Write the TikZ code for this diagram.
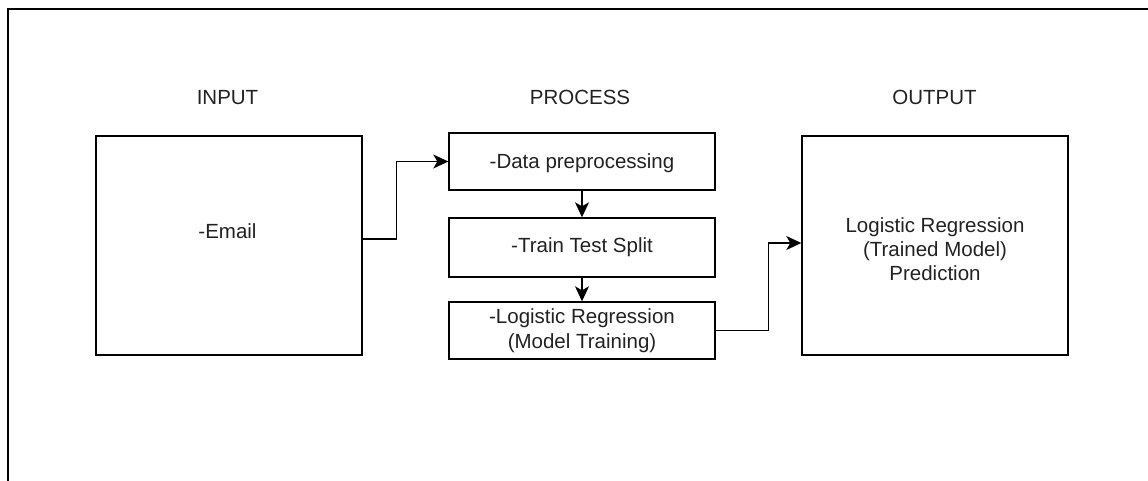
\documentclass[tikz,border=0pt]{standalone}
\usepackage{fontspec}
\setmainfont{Liberation Sans}
\usetikzlibrary{arrows.meta}
\definecolor{ink}{HTML}{222222}
\tikzset{
  stage/.style={font=\fontsize{20.5}{24}\selectfont, text=ink, align=center},
  box/.style={draw=black, line width=1.4pt, rectangle, minimum width=266pt,
              align=center, inner sep=0pt, font=\fontsize{20.5}{25}\selectfont, text=ink},
  flow/.style={draw=black, line width=1.3pt, -{Stealth[length=15pt,width=14pt,inset=4pt]}}
}
\begin{document}
\begin{tikzpicture}[x=1pt,y=-1pt]
  \useasboundingbox (0,0) rectangle (1148,481);
  % page frame running off the right and bottom edges
  \draw[line width=2pt, black] (8,490) -- (8,9) -- (1160,9);

  % column headings
  \node[stage, anchor=base] (hin)  at (227.5,105) {INPUT};
  \node[stage, anchor=base] (hpro) at (580,105)   {PROCESS};
  \node[stage, anchor=base] (hout) at (934.5,105) {OUTPUT};

  % input
  \node[box, minimum height=219pt] (in) at (229,245.5) {};
  \node[stage] (email) at (227.5,231) {-Email};

  % process steps
  \node[box, minimum height=57pt] (p1) at (582,161.5) {};
  \node[stage] (p1t) at (582,163.5) {-Data preprocessing};
  \node[box, minimum height=59pt] (p2) at (582,247.5) {-Train Test Split};
  \node[box, minimum height=57pt] (p3) at (582,330.5) {-Logistic Regression\\(Model Training)};

  % output
  \node[box, minimum height=219pt] (out) at (935,245.5) {};
  \node[stage] (outt) at (935,249.5) {Logistic Regression\\(Trained Model)\\Prediction};

  % connectors
  \draw[flow] ([yshift=6.5pt]in.east) -- ++(34,0) |- (p1.west);
  \draw[flow] (p1.south) -- (p2.north);
  \draw[flow] (p2.south) -- (p3.north);
  \draw[flow] (p3.east) -- ++(53,0) |- ([yshift=2.5pt]out.west);
\end{tikzpicture}
\end{document}
